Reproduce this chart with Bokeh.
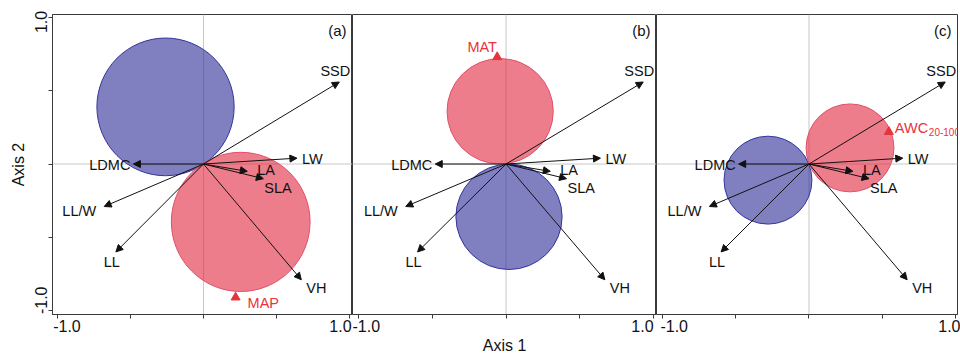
from bokeh.plotting import figure
from bokeh.models import ColumnDataSource, Arrow, NormalHead, Span, FixedTicker, Range1d
from bokeh.layouts import row
from bokeh.embed import file_html
from bokeh.resources import INLINE
from bokeh.core.properties import value

# ---------------- data ----------------
traits = ["SSD", "LW", "LDMC", "LA", "SLA", "LL/W", "LL", "VH"]
trait_x = [0.93, 0.64, -0.48, 0.30, 0.41, -0.68, -0.60, 0.67]
trait_y = [0.56, 0.04, 0.00, -0.05, -0.10, -0.29, -0.60, -0.79]

panel_tags = ["(a)", "(b)", "(c)"]
blue_x = [-0.26, 0.02, -0.28]
blue_y = [0.39, -0.36, -0.11]
blue_r = [0.47, 0.36, 0.30]
red_x = [0.255, -0.04, 0.28]
red_y = [-0.395, 0.36, 0.11]
red_r = [0.475, 0.36, 0.30]

env_names = ["MAP", "MAT", "AWC"]
env_sub = ["", "", "20-100"]
env_x = [0.22, -0.06, 0.545]
env_y = [-0.91, 0.73, 0.22]

axis_ticks = [-1.0, -0.5, 0.0, 0.5, 1.0]
end_labels = ["-1.0", "1.0"]
x_title = "Axis 1"
y_title = "Axis 2"

# ---------------- style ----------------
FONT = value("Liberation Sans")
INK = "#111111"
FRAME = "#3a3a3a"
RED_TXT = "#E8333C"
BLUE_FILL, BLUE_LINE = "#2C2C96", "#34349E"
RED_FILL, RED_LINE = "#E3263F", "#E0506A"
LABEL_SIZE = "14.5px"

TRAIT_LABEL_STYLE = {
    "SSD": ("center", -4, -11),
    "LW": ("left", 5, 1),
    "LDMC": ("right", -3, 1),
    "LA": ("left", 10, -1),
    "SLA": ("left", 1, 9),
    "LL/W": ("right", -8, 4),
    "LL": ("center", -4, 10),
    "VH": ("left", 5, 8),
}
ENV_LABEL_STYLE = [(12, 6, "left"), (-15, -10, "center"), (6, -4, "left")]
SUB_DX = 34
X_LABEL_SHIFT = [(0.065, -0.062), (0.045, -0.075), (0.08, -0.03)]
Y_LABEL_SHIFT = (0.07, -0.03)
FRAME_W = [300, 304, 301]
FRAME_H = 300
XR = [(-1.034, 1.0205), (-1.041, 1.020), (-1.041, 1.0137)]
YR = (-1.027, 1.0205)

arrow_src = ColumnDataSource(dict(x0=[0.0] * len(traits), y0=[0.0] * len(traits),
                                  x1=trait_x, y1=trait_y))


def style_axis(ax, shifts):
    pos = [round(axis_ticks[0] + shifts[0], 4), round(axis_ticks[-1] + shifts[1], 4)]
    ax.ticker = FixedTicker(ticks=pos, minor_ticks=axis_ticks)
    ax.major_label_overrides = {pos[0]: end_labels[0], pos[1]: end_labels[1]}
    ax.major_tick_line_color = None
    ax.major_tick_in = 0
    ax.major_tick_out = 2
    ax.minor_tick_in = 0
    ax.minor_tick_out = 4
    ax.minor_tick_line_color = FRAME
    ax.axis_line_color = FRAME
    ax.major_label_text_font = "Liberation Sans"
    ax.major_label_text_font_size = "16px"
    ax.major_label_text_color = INK
    ax.major_label_standoff = 1
    ax.axis_label_text_font = "Liberation Sans"
    ax.axis_label_text_font_size = "16px"
    ax.axis_label_text_font_style = "normal"
    ax.axis_label_text_color = INK


def make_panel(i):
    first = i == 0
    last = i == 2
    p = figure(frame_width=FRAME_W[i], frame_height=FRAME_H,
               x_range=Range1d(*XR[i]), y_range=Range1d(*YR),
               output_backend="svg", toolbar_location=None, tools="",
               min_border_left=52 if first else 0, min_border_right=3 if last else 0,
               min_border_top=14, min_border_bottom=0,
               y_axis_location="left" if first else None)
    p.background_fill_color = "white"
    p.border_fill_color = "white"
    p.outline_line_color = FRAME
    p.outline_line_width = 1
    p.xgrid.visible = False
    p.ygrid.visible = False

    style_axis(p.xaxis[0], X_LABEL_SHIFT[i])
    if i == 1:
        p.xaxis[0].axis_label = x_title
        p.xaxis[0].axis_label_standoff = 2
    if first:
        style_axis(p.yaxis[0], Y_LABEL_SHIFT)
        p.yaxis[0].major_label_orientation = "vertical"
        p.yaxis[0].axis_label = y_title
        p.yaxis[0].axis_label_standoff = 6

    p.add_layout(Span(location=0, dimension="height", line_color="#c8c8c8", line_width=1, level="underlay"))
    p.add_layout(Span(location=0, dimension="width", line_color="#c8c8c8", line_width=1, level="underlay"))

    p.ellipse(x=[blue_x[i]], y=[blue_y[i]], width=[2 * blue_r[i]], height=[2 * blue_r[i]],
              fill_color=BLUE_FILL, fill_alpha=0.6, line_color=BLUE_LINE, line_width=1)
    p.ellipse(x=[red_x[i]], y=[red_y[i]], width=[2 * red_r[i]], height=[2 * red_r[i]],
              fill_color=RED_FILL, fill_alpha=0.6, line_color=RED_LINE, line_width=1)

    p.add_layout(Arrow(end=NormalHead(size=7, fill_color=INK, line_color=INK, line_width=1),
                       x_start="x0", y_start="y0", x_end="x1", y_end="y1",
                       source=arrow_src, line_color=INK, line_width=1))

    for name, tx, ty in zip(traits, trait_x, trait_y):
        al, dx, dy = TRAIT_LABEL_STYLE[name]
        p.text(x=[tx], y=[ty], text=[name], x_offset=dx, y_offset=dy,
               text_align=al, text_baseline="middle", text_font=FONT,
               text_font_size=LABEL_SIZE, text_color=INK)

    # environmental vector
    p.scatter(x=[env_x[i]], y=[env_y[i]], marker="triangle", size=9,
              fill_color=RED_TXT, line_color=RED_TXT)
    dx, dy, al = ENV_LABEL_STYLE[i]
    p.text(x=[env_x[i]], y=[env_y[i]], text=[env_names[i]], x_offset=dx, y_offset=dy,
           text_align=al, text_baseline="middle", text_font=FONT,
           text_font_size=LABEL_SIZE, text_color=RED_TXT)
    if env_sub[i]:
        p.text(x=[env_x[i]], y=[env_y[i]], text=[env_sub[i]], x_offset=dx + SUB_DX, y_offset=dy + 4,
               text_align="left", text_baseline="middle", text_font=FONT,
               text_font_size="10px", text_color=RED_TXT)

    p.text(x=[XR[i][1]], y=[YR[1]], text=[panel_tags[i]], x_offset=-6, y_offset=7,
           text_align="right", text_baseline="top", text_font=FONT,
           text_font_size="15px", text_color=INK)
    return p


layout = row([make_panel(i) for i in range(3)])

with open("out.html", "w") as f:
    f.write(file_html(layout, INLINE))
